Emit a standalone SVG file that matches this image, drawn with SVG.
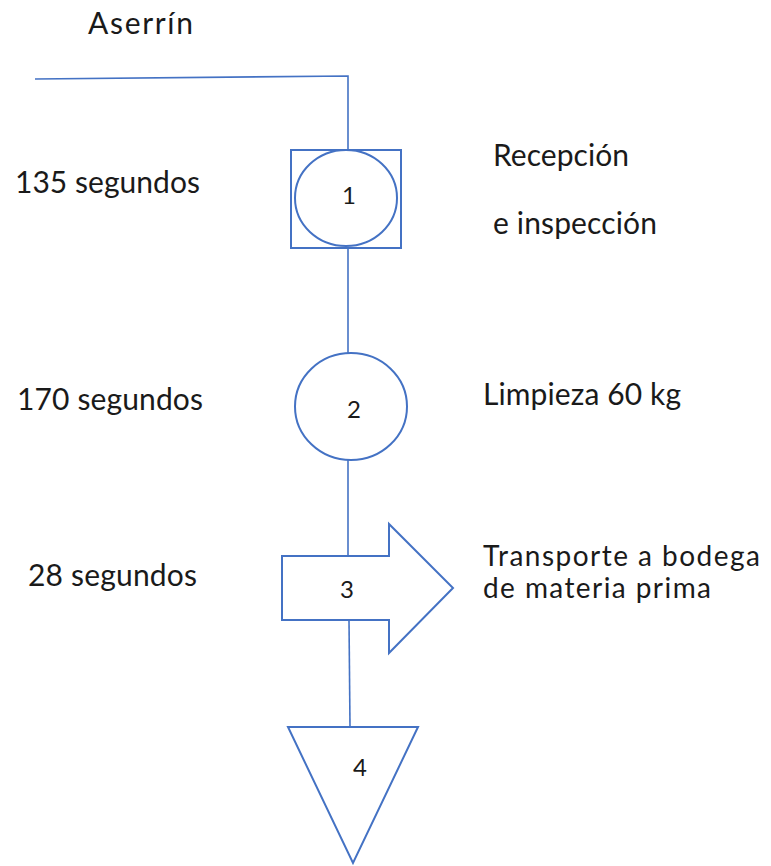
<svg xmlns="http://www.w3.org/2000/svg" width="771" height="866" viewBox="0 0 771 866">
<style>
.shape{fill:#ffffff;stroke:#4472C4;stroke-width:2}
.conn{fill:none;stroke:#4472C4;stroke-width:1.6}
.lbl{font-family:Lato,"Liberation Sans",sans-serif;font-size:30px;fill:#1a1a1a}
.lbl2{font-family:Lato,"Liberation Sans",sans-serif;font-size:28px;fill:#1a1a1a}
.num{font-family:Lato,"Liberation Sans",sans-serif;font-size:24px;fill:#1a1a1a;text-anchor:middle}
</style>
<rect width="771" height="866" fill="#ffffff"/>
<g id="connectors">
<path class="conn" d="M35,79 L348,76 L348,150"/>
<path class="conn" d="M348,248 L348,353"/>
<path class="conn" d="M348,460 L348,556"/>
<path class="conn" d="M349,620 L350,727"/>
</g>
<g id="node1">
<rect class="shape" x="291" y="150" width="110" height="98"/>
<ellipse class="shape" cx="346" cy="198" rx="51" ry="48"/>
<text class="num" x="349" y="204">1</text>
</g>
<g id="node2">
<ellipse class="shape" cx="351" cy="406.5" rx="56" ry="53.5"/>
<text class="num" x="354" y="418">2</text>
</g>
<g id="node3">
<path class="shape" d="M282,556 L389,556 L389,524 L453,588 L389,653 L389,620 L282,620 Z"/>
<text class="num" x="347" y="598">3</text>
</g>
<g id="node4">
<path class="shape" d="M288,727 L418,727 L353,863 Z"/>
<text class="num" x="360" y="776">4</text>
</g>
<g id="labels">
<text class="lbl" x="88" y="34" textLength="105">Aserrín</text>
<text class="lbl" x="15" y="193" textLength="185">135 segundos</text>
<text class="lbl" x="493" y="166" textLength="136">Recepción</text>
<text class="lbl" x="493" y="234" textLength="164">e inspección</text>
<text class="lbl" x="17" y="410" textLength="186">170 segundos</text>
<text class="lbl" x="483" y="405" textLength="198">Limpieza 60 kg</text>
<text class="lbl" x="28" y="586" textLength="169">28 segundos</text>
<text class="lbl2" x="483" y="566" textLength="277">Transporte a bodega</text>
<text class="lbl2" x="483" y="598" textLength="228">de materia prima</text>
</g>
</svg>
